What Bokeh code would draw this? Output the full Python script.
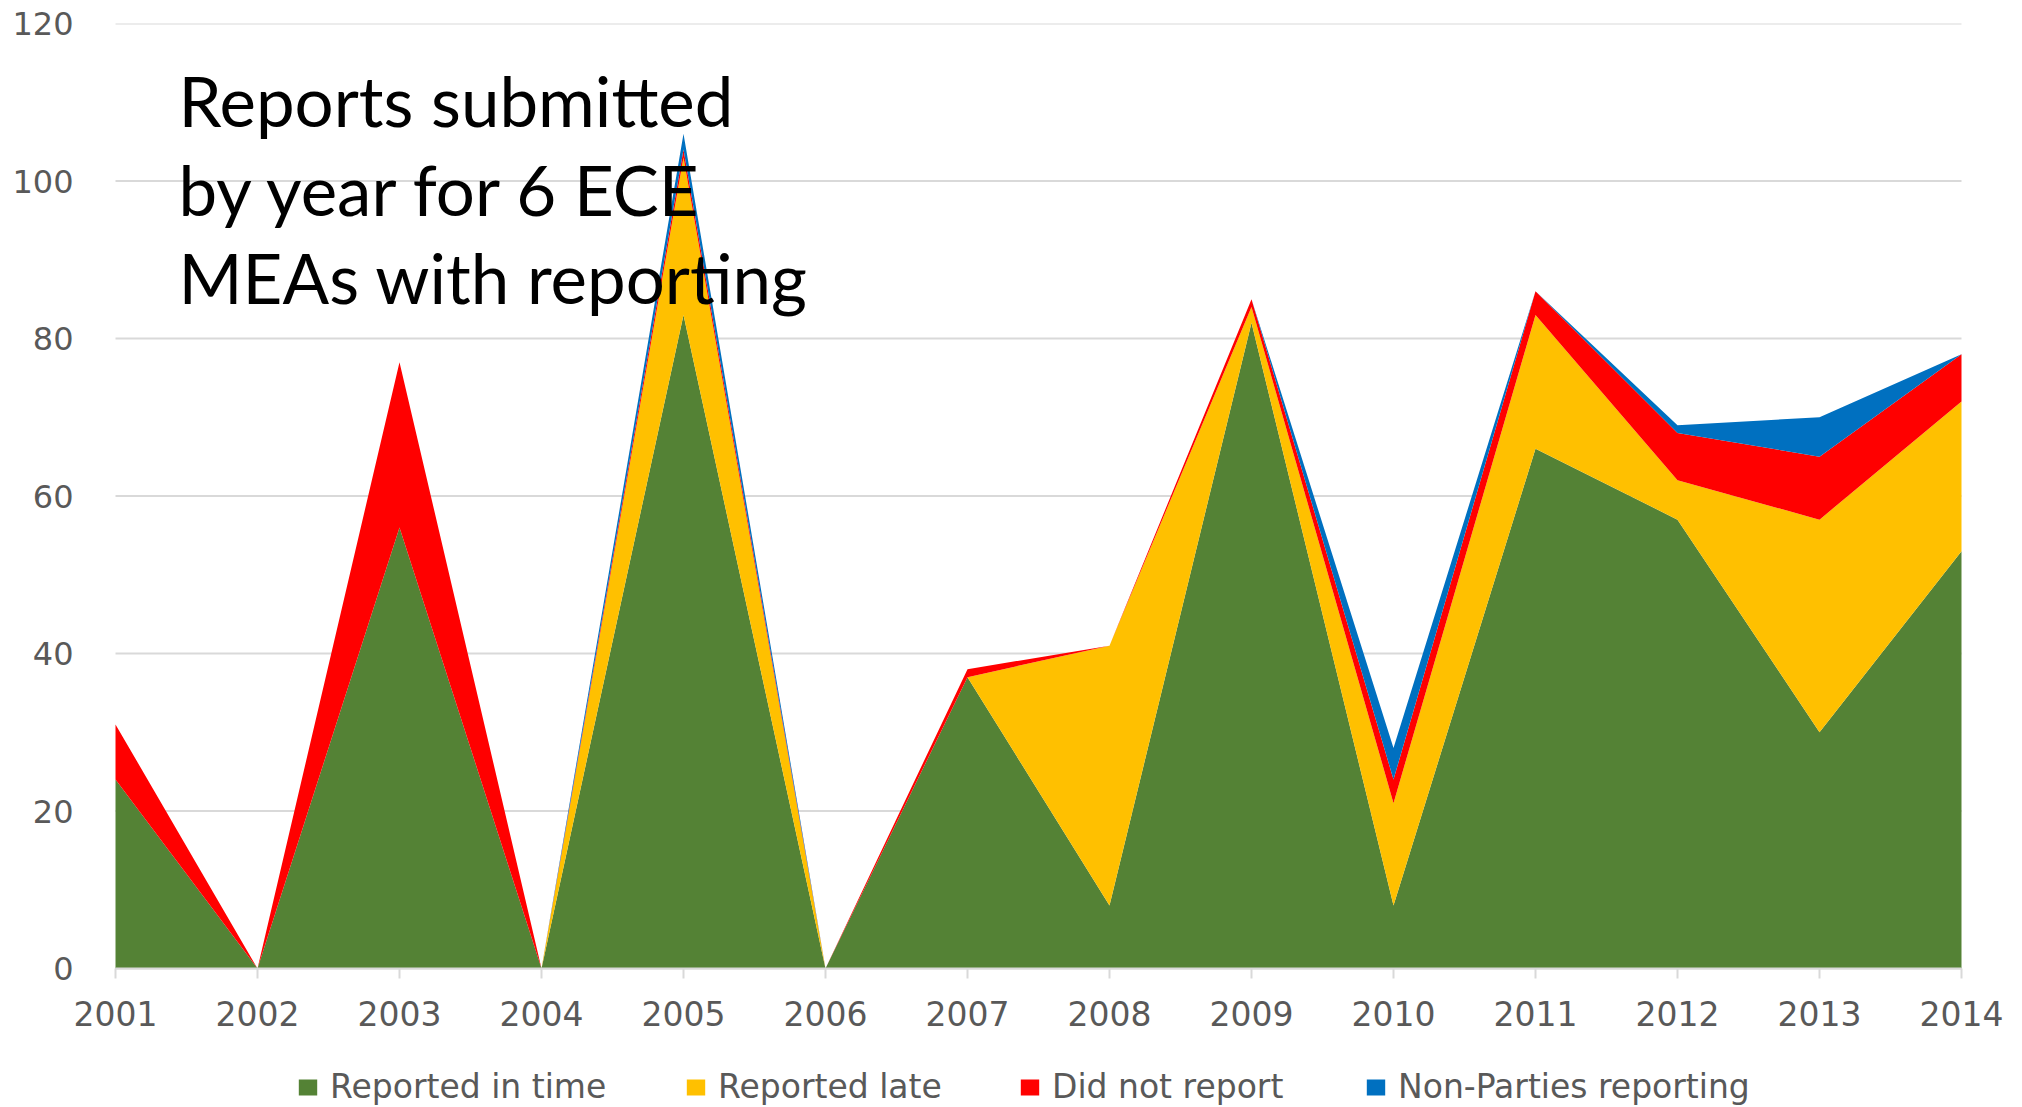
from bokeh.plotting import figure
from bokeh.models import (ColumnDataSource, Range1d, FixedTicker, Legend, LegendItem, Label)
from bokeh.embed import file_html
from bokeh.resources import INLINE

# ---- data ----
years = [2001, 2002, 2003, 2004, 2005, 2006, 2007, 2008, 2009, 2010, 2011, 2012, 2013, 2014]
reported_in_time = [24, 0, 56, 0, 83, 0, 37, 8, 82, 8, 66, 57, 30, 53]
reported_late = [0, 0, 0, 0, 20, 0, 0, 33, 2, 13, 17, 5, 27, 19]
did_not_report = [7, 0, 21, 0, 1, 0, 1, 0, 1, 3, 3, 6, 8, 6]
non_parties_reporting = [0, 0, 0, 0, 2, 0, 0, 0, 0, 4, 0, 1, 5, 0]
y_ticks = [0, 20, 40, 60, 80, 100, 120]

series_names = ["Reported in time", "Reported late", "Did not report", "Non-Parties reporting"]
series_cols = ["in_time", "late", "not_rep", "non_part"]
colors = ["#548235", "#FFC000", "#FF0000", "#0070C0"]
title_lines = ["Reports submitted", "by year for 6 ECE", "MEAs with reporting"]

source = ColumnDataSource(dict(x=years, in_time=reported_in_time, late=reported_late,
                               not_rep=did_not_report, non_part=non_parties_reporting))

# ---- layout (pixels) ----
W, H = 2022, 1107
TOP = 23            # value 120
ZERO_Y = 968        # value 0
X_FIRST, X_LAST = 115, 1961   # first / last year
FRAME_L, FRAME_R = 73, 2008   # frame is wider than the data so end year labels are not clipped

px_per_unit = (ZERO_Y - TOP) / (y_ticks[-1] - y_ticks[0])
y_bottom = -(H - ZERO_Y) / px_per_unit
px_per_year = (X_LAST - X_FIRST) / (years[-1] - years[0])
x_start = years[0] - (X_FIRST - FRAME_L) / px_per_year
x_end = years[-1] + (FRAME_R - X_LAST) / px_per_year

p = figure(width=W, height=H, output_backend="svg", toolbar_location=None,
           x_range=Range1d(x_start, x_end), y_range=Range1d(y_bottom, y_ticks[-1]),
           min_border_left=FRAME_L, min_border_right=W - FRAME_R,
           min_border_top=TOP, min_border_bottom=0)
p.outline_line_color = None
p.background_fill_color = "white"
p.xgrid.grid_line_color = None
p.ygrid.grid_line_color = None

# horizontal gridlines, only across the span of the years
p.segment(x0=[years[0]] * len(y_ticks), x1=[years[-1]] * len(y_ticks), y0=y_ticks, y1=y_ticks,
          line_color="#D9D9D9", line_width=2)

renderers = p.varea_stack(stackers=series_cols, x="x", color=colors, source=source)

# axes
TICK_FONT = "DejaVu Sans"
LABEL_COLOR = "#595959"
p.xaxis.fixed_location = 0
p.xaxis.bounds = (years[0], years[-1])
p.xaxis.ticker = FixedTicker(ticks=years)
p.xaxis.axis_line_color = "#D9D9D9"
p.xaxis.axis_line_width = 2
p.xaxis.major_tick_line_color = "#D9D9D9"
p.xaxis.major_tick_line_width = 2
p.xaxis.major_tick_in = 0
p.xaxis.major_tick_out = 10
p.xaxis.minor_tick_line_color = None
p.xaxis.major_label_text_font = TICK_FONT
p.xaxis.major_label_text_font_size = "33px"
p.xaxis.major_label_text_color = LABEL_COLOR
p.xaxis.major_label_standoff = 22

p.yaxis.ticker = FixedTicker(ticks=y_ticks)
p.yaxis.axis_line_color = None
p.yaxis.major_tick_line_color = None
p.yaxis.minor_tick_line_color = None
p.yaxis.major_tick_in = 0
p.yaxis.major_tick_out = 0
p.yaxis.major_label_text_font = TICK_FONT
p.yaxis.major_label_text_font_size = "32px"
p.yaxis.major_label_text_color = LABEL_COLOR
p.yaxis.major_label_standoff = 0

# legend: one entry per series, under the year labels
legend_x = [296, 684, 1018, 1364]
for name, r, lx in zip(series_names, renderers, legend_x):
    lg = Legend(items=[LegendItem(label=name, renderers=[r])], location=(lx - FRAME_L, 1),
                orientation="horizontal", glyph_width=23, glyph_height=20,
                label_standoff=11, padding=0, margin=0, spacing=0,
                border_line_color=None, background_fill_alpha=0,
                label_text_font=TICK_FONT, label_text_font_size="33px",
                label_text_color=LABEL_COLOR, label_height=36)
    p.add_layout(lg, "center")

# title text inside the plot area
baselines = [100, 189, 277]
for line, b in zip(title_lines, baselines):
    p.add_layout(Label(x=178 - FRAME_L, y=H - b, x_units="screen", y_units="screen",
                       text=line, text_font="Lato", text_font_size="69px",
                       text_color="black", text_baseline="alphabetic", text_align="left"))

open("out.html", "w").write(file_html(p, INLINE))
